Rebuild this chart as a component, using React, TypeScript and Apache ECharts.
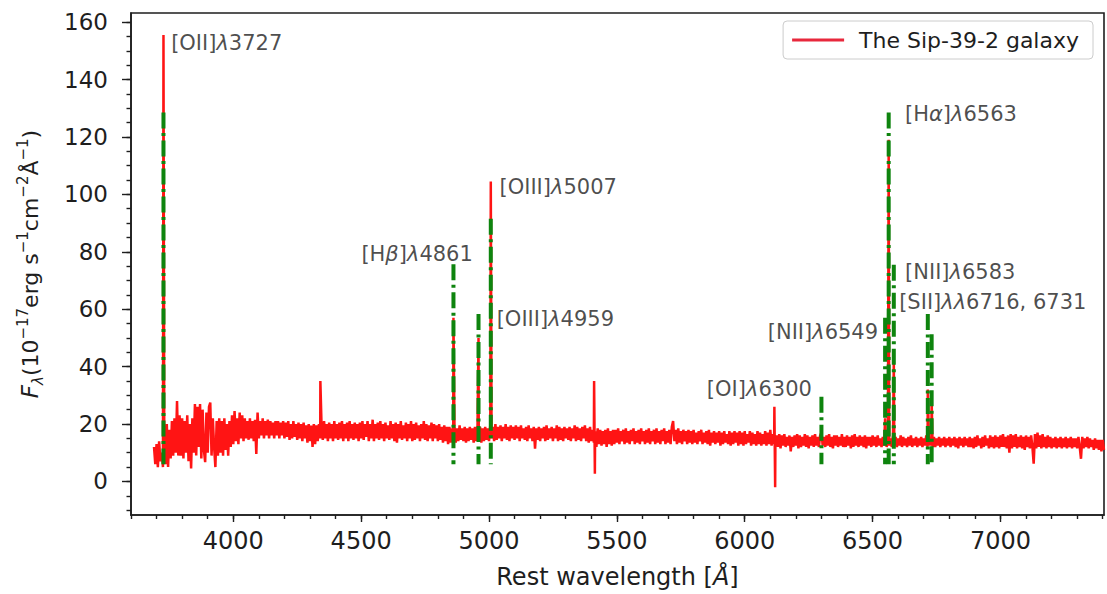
import React, { useEffect, useRef } from "react";
import * as echarts from "echarts";

// ---------------- data ----------------
const STEP = 5; // Å sampling of the continuum arrays

const startA = 3690;
const fluxA = [
  12, 6, 13, 5, 14, 7, 10, 5, 16, 6, 20, 5, 18, 8, 21, 9, 22, 10, 28, 9,
  23, 9, 22, 8, 21, 10, 23, 7, 20, 4.5, 22, 10, 27, 9, 26, 12, 27, 8, 25, 11,
  6.7, 24, 10, 26, 27.5, 9, 22, 12, 5, 21, 9, 22, 10, 21, 9, 22, 11, 20, 9, 21,
  12, 23, 13, 24.5, 14, 22, 13, 24, 15, 23, 14, 22, 15, 21, 14.5, 22, 15, 21, 14, 21.5,
  9.6, 24, 15, 21, 16, 22, 15, 21, 16, 21.5, 15, 21, 16, 20.5, 15, 21, 16, 21, 15, 20.5,
  16, 21, 15, 20.5, 15.5, 21, 14.5, 20, 15, 21, 15.5, 20, 14.5, 20.5, 15, 20, 14, 20.5, 15, 19.5,
  13.5, 20, 14, 19.5, 12, 20, 13, 19.5, 14, 20, 15, 20, 14.5, 21, 15, 20, 14, 20.5, 15, 20,
  14, 21, 15, 20, 14.5, 20.5, 15, 21, 14, 20, 15, 20.5, 14, 21, 15, 20, 14.5, 20.5, 15, 20,
];

const startB = 4490;
const fluxB = [
  14, 20.5, 15, 21, 14.5, 20, 15.5, 21, 14, 20, 15, 21.5, 14, 20, 15, 20.5, 14.5, 21, 15, 20,
  14, 20.5, 15, 19.5, 14.5, 21, 15, 20, 14, 20.5, 13.5, 20, 15, 21, 14.5, 19.5, 15, 20.5, 14, 20,
  15, 21, 14, 20, 14.5, 20.5, 15, 19.5, 14, 20, 15, 21, 14.5, 20, 14, 19.5, 15, 20.5, 14, 20,
  15, 19.5, 14, 20, 14.5, 19, 13.5, 19.5, 14, 19, 13, 19, 13.5, 18.5, 14, 19, 13.5, 18.5, 14, 19.5,
  14.5, 18.5, 14, 19, 13.5, 18.5, 14, 19, 14.5, 18.5, 13.5, 19, 14, 18.5, 14.5, 19, 13.5, 18.5, 14, 19,
  14.5, 18.5, 14, 19.5, 15, 19, 14, 20, 14.5, 19, 15, 19.5, 14, 19, 15, 20, 14.5, 19, 14, 19.5,
  15, 19, 14.5, 19.5, 15, 19, 14, 19.5, 15, 18.5, 14.5, 19, 14, 19.5, 15, 18.5, 14, 19, 11.4, 18.5,
  14.5, 19, 14, 18.5, 15, 19, 14, 19.5, 14.5, 18.5, 15, 19, 14, 18.5, 15, 19.5, 14, 19, 14.5, 18.5,
  14, 19, 15, 18.5, 14.5, 19, 14, 18.5, 15, 19.5, 14, 19, 14.5, 18.5, 14, 19, 15, 19.5, 14, 18.5,
  13.5, 19, 14, 18, 13.5, 17.5, 12, 18.5, 13, 18, 12.5, 17.5, 13, 18, 12, 18.5, 13, 17.5, 12.5, 18,
];

const startC = 5490;
const fluxC = [
  13, 18, 13.5, 18.5, 13, 17.5, 14, 18, 13, 18.5, 13.5, 17.5, 13, 18, 14, 18.5, 13, 17.5, 13.5, 18,
  13, 18.5, 14, 17.5, 13, 18, 13.5, 18.5, 13, 17.5, 14, 18, 13, 18.5, 13.5, 17.5, 13, 18, 14, 18.5,
  13, 17.5, 13.5, 18, 13, 19, 21, 14, 18, 13, 18.5, 13.5, 17.5, 13, 18, 14, 17.5, 13, 18, 13.5,
  17.5, 13, 18, 13.5, 17, 13, 17.5, 14, 18, 13, 17, 13.5, 17.5, 13, 18, 12.5, 17, 13.5, 17.5, 13,
  17, 13.5, 17.5, 12.5, 17, 13, 17.5, 13.5, 16.5, 13, 17.5, 12.5, 17, 13, 17.5, 13.5, 17, 12.5, 17.5, 13,
  17, 12.5, 17.5, 13, 16.5, 13.5, 17.5, 12.5, 17, 13, 16.5, 12.5, 17.5, 13, 17, 12.5, 16.5, 13, 17.5, 12.5,
  17, 13, 18, 12.5, 16.5, 13, 14, 16, 12, 16.5, 11.5, 16, 12.5, 16.5, 12, 15.5, 12.5, 16, 10.5, 15.5,
  12, 16, 12.5, 16.5, 11.5, 16, 12, 15.5, 12.5, 16.5, 12, 16, 11.5, 15.5, 12.5, 16, 12, 16.5, 12.5, 15.5,
  12, 16, 17, 12.5, 15.5, 12, 16, 12.5, 16.5, 12, 15.5, 11.5, 16, 12.5, 16, 12, 15.5, 12.5, 16.5, 12,
  15.5, 12, 16, 12.5, 15.5, 11.5, 16, 12, 16.5, 12.5, 15.5, 12, 16, 12.5, 15.5, 12, 16, 11.5, 15.5, 12.5,
];

const startD = 6490;
const fluxD = [
  15.5, 12, 16, 12.5, 15.5, 12, 16, 12.5, 15, 12, 15.5, 12.5, 16, 12, 15.5, 12.5, 15, 12, 16, 12.5,
  15.5, 12, 15, 12.5, 16, 12, 15.5, 12.5, 15, 12, 15.5, 12.5, 16, 12, 15, 12.5, 15.5, 12, 15, 12.5,
  15.5, 12, 15, 12.5, 16, 12, 15.5, 12.5, 15, 12, 15.5, 12, 15, 12.5, 15.5, 12, 15, 12.5, 15.5, 12,
  15, 12.5, 15.5, 12, 15, 12.5, 15.5, 12, 15, 11.5, 15.5, 12.5, 15, 12, 15.5, 12.5, 15, 12, 15.5, 12,
  15, 11.5, 15.5, 12, 16, 12.5, 15, 11.5, 15.5, 12, 16, 12.5, 15, 11.5, 16, 12, 15.5, 11.5, 16, 12,
  15.5, 11.5, 16, 12, 16.5, 12, 15.5, 11.5, 16, 10, 16.5, 11.5, 16, 12, 16.5, 11.5, 15.5, 12, 16, 11.5,
  15.5, 11, 16, 12, 15.5, 11.5, 16, 12, 6.2, 16.5, 11.5, 17, 12, 16, 11.5, 16.5, 12, 15.5, 11.5, 16,
  12, 15.5, 11.5, 15, 12, 15.5, 11.5, 15, 12, 15.5, 11.5, 15, 12, 15.5, 11.5, 15, 12, 15.5, 11.5, 15,
  12, 15, 11.5, 15.5, 12, 7.9, 15.5, 11.5, 15, 12, 15.5, 11.5, 15, 12, 14.5, 11, 15, 11.5, 14.5, 11,
  14.5, 10.5, 14.5, 11,
];

// narrow spikes of the red spectrum (emission peaks and artefacts)
const spikeWave = [3727, 4340.5, 4861, 4959, 5007, 5411, 5414, 6116, 6119, 6549, 6563, 6583, 6716, 6731];
const spikeFlux = [155.5, 35, 57, 50, 104.5, 35, 2.7, 26, -2, 22, 119, 42, 32, 28];

// green dash-dot line markers
const markWave = [3727, 4861, 4959, 5007, 6300, 6549, 6563, 6583, 6716, 6731];
const markTop = [128.5, 75.7, 58.3, 91.5, 29.5, 57, 128.5, 75.5, 58.3, 51.3];
const markBottom = 6;

// annotation texts and their anchor (left, middle) in data coordinates
const labelText = [
  "[OII]{i|λ}3727",
  "[H{i|β}]{i|λ}4861",
  "[OIII]{i|λ}5007",
  "[OIII]{i|λ}4959",
  "[H{i|α}]{i|λ}6563",
  "[NII]{i|λ}6583",
  "[SII]{i|λλ}6716, 6731",
  "[NII]{i|λ}6549",
  "[OI]{i|λ}6300",
];
const labelX = [3757, 4501, 5041, 5030, 6627, 6627, 6604, 6090, 5852];
const labelY = [152.6, 79.2, 102.5, 56.6, 127.9, 72.9, 62.5, 52.1, 32.2];

const xMajor = [4000, 4500, 5000, 5500, 6000, 6500, 7000];
const yMajor = [0, 20, 40, 60, 80, 100, 120, 140, 160];
const xMin = 3600;
const xMax = 7405;
const yMin = -11.7;
const yMax = 163.2;

const seriesName = "The Sip-39-2 galaxy";

// ---------------- chart ----------------
const FONT = "DejaVu Sans";
const INK = "#1e1e1e";
const RED = "#ff1414";
const GREEN = "#0e840e";

function buildSpectrum(): [number, number][] {
  const pts: [number, number][] = [];
  const segs: [number, number[]][] = [
    [startA, fluxA],
    [startB, fluxB],
    [startC, fluxC],
    [startD, fluxD],
  ];
  segs.forEach(([s, arr]) => arr.forEach((v, i) => pts.push([s + i * STEP, v])));
  spikeWave.forEach((w, i) => pts.push([w, spikeFlux[i]]));
  pts.sort((a, b) => a[0] - b[0]);
  return pts;
}

export default function App() {
  const ref = useRef<HTMLDivElement>(null);

  useEffect(() => {
    if (!ref.current) return;
    const chart = echarts.init(ref.current, null, { renderer: "svg" });

    const xMinor: number[] = [];
    for (let v = 3600; v <= 7400; v += 100) xMinor.push(v);
    const yMinor: number[] = [];
    for (let v = -10; v <= 160; v += 5) yMinor.push(v);

    const tickLine = { color: INK, width: 1.4 };
    const plain = (v: number) => String(v);

    const markSeries = markWave.map((w, i) => ({
      type: "line",
      name: "mark" + i,
      data: [
        [w, markTop[i]],
        [w, markBottom],
      ],
      xAxisIndex: 0,
      yAxisIndex: 0,
      symbol: "none",
      silent: true,
      z: 3,
      lineStyle: { color: GREEN, width: 4, type: [16, 4.5, 3, 4.5] },
    }));

    const txt = { fontFamily: FONT, fontSize: 21, color: INK };

    const option: any = {
      animation: false,
      backgroundColor: "#ffffff",
      grid: {
        left: 131,
        right: 3,
        top: 13,
        bottom: 78,
        show: true,
        borderColor: INK,
        borderWidth: 1.6,
        backgroundColor: "transparent",
      },
      legend: {
        data: [seriesName],
        right: 14,
        top: 21,
        orient: "vertical",
        icon: "rect",
        backgroundColor: "#ffffff",
        borderColor: "#cccccc",
        borderWidth: 1,
        borderRadius: 4,
        padding: [8, 14, 8, 9],
        itemWidth: 52,
        itemHeight: 3,
        itemGap: 14,
        itemStyle: { color: "#e8283c" },
        textStyle: { fontFamily: FONT, fontSize: 22, color: INK, padding: [0, 0, 0, 10] },
      },
      xAxis: [
        {
          type: "value",
          min: xMin,
          max: xMax,
          position: "bottom",
          axisLine: { show: true, onZero: false, lineStyle: { color: INK, width: 1.6 } },
          axisTick: { show: true, customValues: xMinor, length: 4, lineStyle: tickLine },
          axisLabel: { show: false },
          splitLine: { show: false },
        },
        {
          type: "value",
          min: xMin,
          max: xMax,
          position: "bottom",
          axisLine: { show: false, onZero: false },
          axisTick: { show: true, customValues: xMajor, length: 7, lineStyle: tickLine },
          axisLabel: {
            show: true,
            customValues: xMajor,
            formatter: plain,
            margin: 14,
            fontFamily: FONT,
            fontSize: 24,
            color: INK,
          },
          splitLine: { show: false },
          name: "Rest wavelength [{i|Å}]",
          nameLocation: "middle",
          nameGap: 50,
          nameTextStyle: {
            fontFamily: FONT,
            fontSize: 24,
            color: INK,
            rich: { i: { fontFamily: FONT, fontSize: 24, color: INK, fontStyle: "italic" } },
          },
        },
      ],
      yAxis: [
        {
          type: "value",
          min: yMin,
          max: yMax,
          position: "left",
          axisLine: { show: true, onZero: false, lineStyle: { color: INK, width: 1.6 } },
          axisTick: { show: true, customValues: yMinor, length: 4.5, lineStyle: tickLine },
          axisLabel: { show: false },
          splitLine: { show: false },
        },
        {
          type: "value",
          min: yMin,
          max: yMax,
          position: "left",
          axisLine: { show: false, onZero: false },
          axisTick: { show: true, customValues: yMajor, length: 9, lineStyle: tickLine },
          axisLabel: {
            show: true,
            customValues: yMajor,
            formatter: plain,
            margin: 23,
            fontFamily: FONT,
            fontSize: 23,
            color: INK,
          },
          splitLine: { show: false },
          name:
            "{f|F}{sub|λ}{n|(10}{sup|−17}{n|erg s}{sup|−1}{n|cm}{sup|−2}{n|Å}{sup|−1}{n|)}",
          nameLocation: "middle",
          nameRotate: 90,
          nameGap: 86,
          nameTextStyle: {
            fontFamily: FONT,
            fontSize: 22,
            color: INK,
            rich: {
              f: { fontFamily: FONT, fontSize: 23, color: INK, fontStyle: "italic", lineHeight: 30, verticalAlign: "middle" },
              n: { fontFamily: FONT, fontSize: 22, color: INK, lineHeight: 30, verticalAlign: "middle" },
              sup: { fontFamily: FONT, fontSize: 15, color: INK, lineHeight: 15, verticalAlign: "top" },
              sub: { fontFamily: FONT, fontSize: 15, color: INK, fontStyle: "italic", lineHeight: 15, verticalAlign: "bottom" },
            },
          },
        },
      ],
      series: [
        {
          type: "line",
          name: seriesName,
          data: buildSpectrum(),
          xAxisIndex: 0,
          yAxisIndex: 0,
          symbol: "none",
          showSymbol: false,
          z: 2,
          lineStyle: { color: RED, width: 2.5 },
          itemStyle: { color: RED },
        },
        ...markSeries,
        {
          type: "scatter",
          name: "labels",
          xAxisIndex: 0,
          yAxisIndex: 0,
          symbolSize: 0,
          silent: true,
          z: 5,
          data: labelText.map((t, i) => ({ value: [labelX[i], labelY[i]], t })),
          label: {
            show: true,
            position: [0, 0],
            align: "left",
            verticalAlign: "middle",
            formatter: (p: any) => p.data.t,
            ...txt,
            rich: { i: { ...txt, fontStyle: "italic" } },
          },
        },
      ],
    };

    chart.setOption(option);
    return () => chart.dispose();
  }, []);

  return (
    <div
      ref={ref}
      style={{ position: "fixed", left: 0, top: 0, width: 1107, height: 594, background: "#fff" }}
    />
  );
}
